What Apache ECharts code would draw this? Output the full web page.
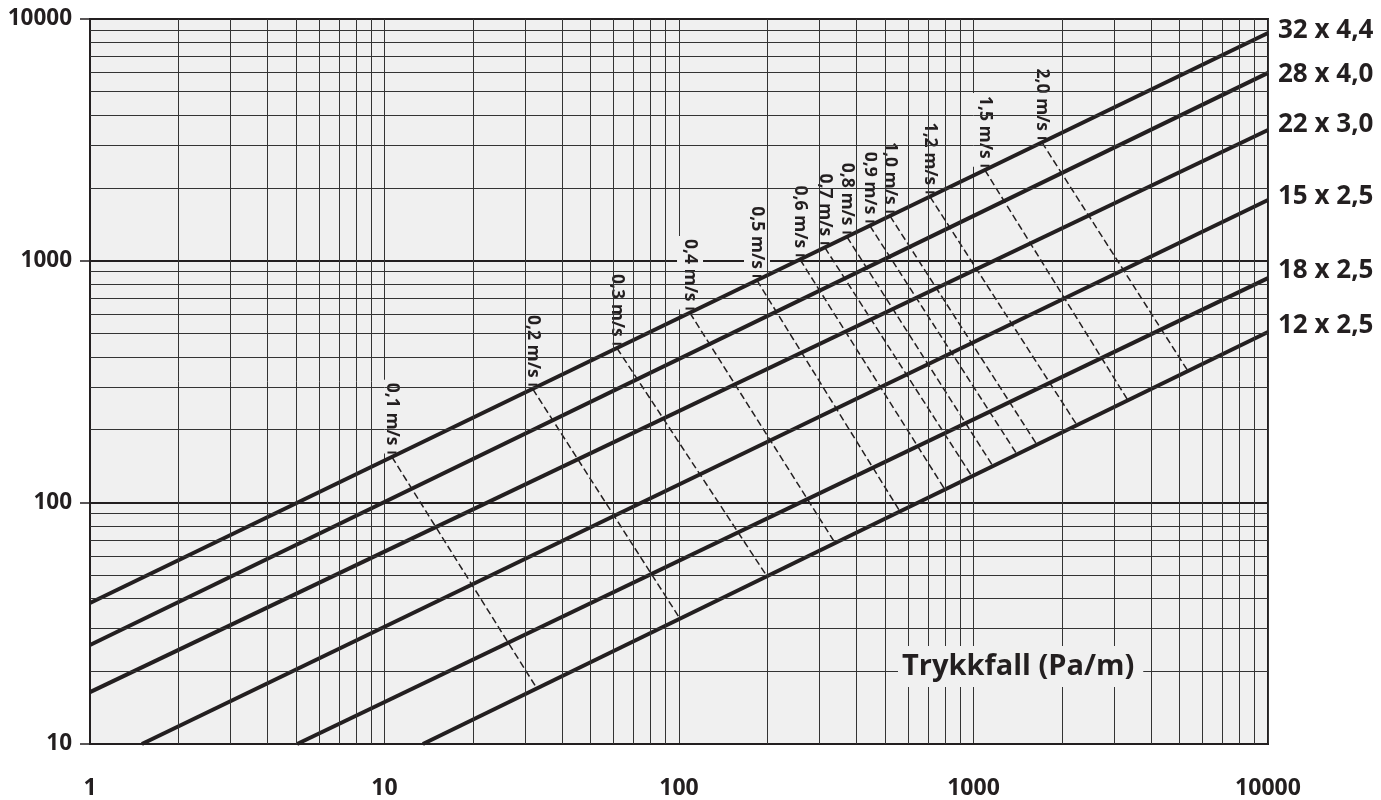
<!DOCTYPE html>
<html><head><meta charset="utf-8">
<script src="https://cdn.jsdelivr.net/npm/echarts@6/dist/echarts.min.js"></script>
<style>html,body{margin:0;padding:0;background:#fff}#c{width:1381px;height:800px}</style>
</head><body><div id="c"></div>
<script>
// Axis structure
const xTicks = [1, 10, 100, 1000, 10000];
const yTicks = [10, 100, 1000, 10000];
const minorSteps = [2, 3, 4, 5, 6, 7, 8, 9];
const xDecades = [1, 10, 100, 1000];
const yDecades = [10, 100, 1000];

// Pipe lines (Trykkfall Pa/m on x, flow on y)
const pipeNames = ['32 x 4,4', '28 x 4,0', '22 x 3,0', '15 x 2,5', '18 x 2,5', '12 x 2,5'];
const pipeStart = [[1, 38.3], [1, 25.7], [1, 16.4], [1.5, 10], [5.05, 10], [13.5, 10]];
const pipeEnd = [[10000, 8750], [10000, 5985], [10000, 3475], [10000, 1782], [10000, 847], [10000, 507]];

// Velocity lines
const velNames = ['0,1 m/s', '0,2 m/s', '0,3 m/s', '0,4 m/s', '0,5 m/s', '0,6 m/s', '0,7 m/s', '0,8 m/s', '0,9 m/s', '1,0 m/s', '1,2 m/s', '1,5 m/s', '2,0 m/s'];
const velStart = [[10.6, 154], [31.9, 294], [61.6, 434], [109, 607], [184, 828], [258, 1009], [313, 1132], [372, 1253], [445, 1393], [521, 1528], [712, 1838], [1094, 2367], [1709, 3081]];
const velEnd = [[32.9, 17.0], [100.8, 33.0], [199, 49.4], [339, 67.8], [563, 91.6], [800, 112.9], [988, 128], [1165, 141], [1405, 158], [1643, 173], [2246, 208.6], [3346, 264], [5351, 349]];

// Styling
const pipeLabelDy = [-2, 2, -5, -3, -8, -6];
const INK = '#231f20';
const FONT = '"Open Sans", "Noto Sans", sans-serif';

const chart = echarts.init(document.getElementById('c'), null, {renderer: 'canvas'});

const minorData = [];
xDecades.forEach(d => minorSteps.forEach(k => minorData.push({xAxis: d * k})));
yDecades.forEach(d => minorSteps.forEach(k => minorData.push({yAxis: d * k})));

const series = [];
series.push({
  type: 'line', data: [], silent: true, z: 1,
  markLine: {
    silent: true, symbol: ['none', 'none'], label: {show: false},
    lineStyle: {color: '#333', width: 1, type: 'solid'},
    emphasis: {disabled: true},
    data: minorData
  }
});

pipeNames.forEach((n, i) => {
  series.push({
    type: 'line', name: n, z: 4, silent: true, clip: false,
    symbol: 'none',
    lineStyle: {color: INK, width: 4},
    data: [pipeStart[i], pipeEnd[i]],
    endLabel: {
      show: true, formatter: n, distance: 10, offset: [0, pipeLabelDy[i]],
      fontFamily: FONT, fontWeight: 'bold', fontSize: 26, color: INK
    },
    emphasis: {disabled: true}
  });
});

velNames.forEach((n, i) => {
  series.push({
    type: 'line', name: n, z: 3, silent: true, clip: false,
    symbol: 'none', showSymbol: true,
    lineStyle: {color: INK, width: 1.5, type: [7, 3.5]},
    itemStyle: {color: 'rgba(0,0,0,0)'},
    data: [
      {
        value: velStart[i], symbol: 'rect', symbolSize: 1,
        label: {
          show: true, formatter: n + '{g|}{t|}', position: 'top', distance: 3, rotate: -90,
          align: 'right', verticalAlign: 'middle',
          fontFamily: FONT, fontWeight: 'bold', fontSize: 17.5, lineHeight: 18, color: INK,
          backgroundColor: '#f0f0f0', padding: [4, 0, 4, 3],
          rich: {
            g: {width: 6, height: 2},
            t: {width: 2, height: 9, backgroundColor: INK, verticalAlign: 'middle'}
          }
        }
      },
      {value: velEnd[i], symbol: 'none'}
    ],
    emphasis: {disabled: true}
  });
});

chart.setOption({
  animation: false,
  backgroundColor: '#ffffff',
  grid: {left: 90, right: 113, top: 19, bottom: 56, show: true, backgroundColor: '#f0f0f0', borderColor: INK, borderWidth: 2},
  xAxis: {
    type: 'log', logBase: 10, min: 1, max: 10000,
    axisLine: {show: true, lineStyle: {color: INK, width: 2}},
    axisTick: {show: false},
    axisLabel: {margin: 33, fontFamily: FONT, fontWeight: 'bold', fontSize: 23, color: INK,
      formatter: v => String(Math.round(v))},
    splitLine: {show: true, lineStyle: {color: '#333', width: 1}},
    minorTick: {show: false}, minorSplitLine: {show: false}
  },
  yAxis: {
    type: 'log', logBase: 10, min: 10, max: 10000,
    axisLine: {show: true, lineStyle: {color: INK, width: 2}},
    axisTick: {show: true, length: 10, lineStyle: {color: INK, width: 1.5}},
    axisLabel: {margin: 18, fontFamily: FONT, fontWeight: 'bold', fontSize: 22.5, color: INK,
      formatter: v => String(Math.round(v))},
    splitLine: {show: true, lineStyle: {color: INK, width: 2}},
    minorTick: {show: false}, minorSplitLine: {show: false}
  },
  graphic: [{
    type: 'text', left: 898, top: 646, z: 100,
    style: {text: 'Trykkfall (Pa/m)', font: 'bold 29px ' + FONT, fill: INK,
      backgroundColor: '#f0f0f0', padding: [6, 9, 6, 4]}
  }],
  series: series
});
</script>
</body></html>
